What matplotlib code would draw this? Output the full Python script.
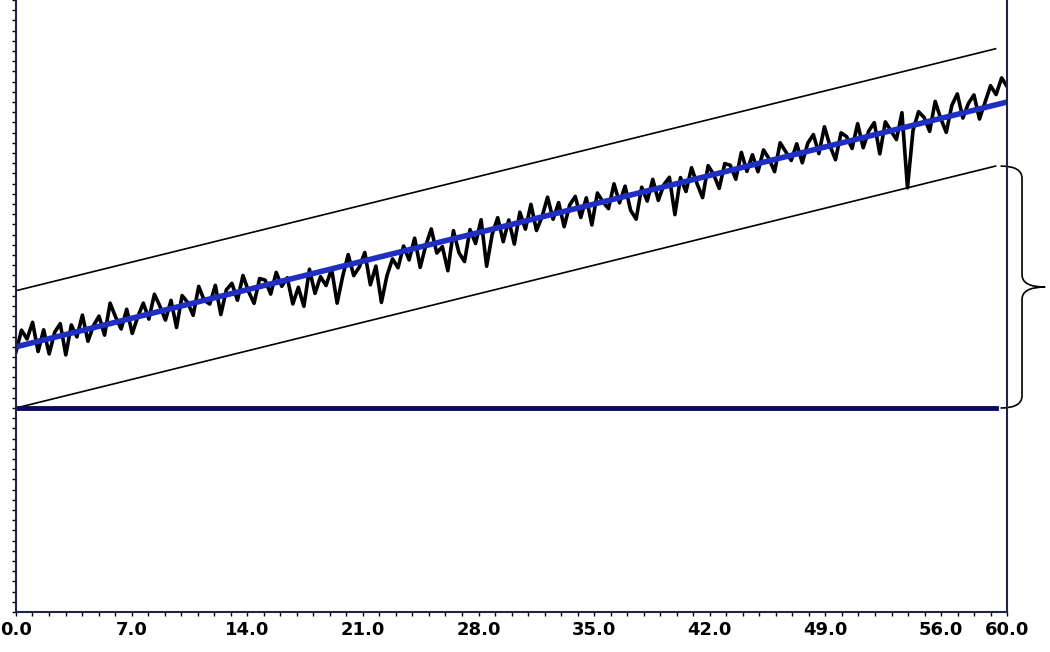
import numpy as np
import matplotlib.pyplot as plt
from matplotlib.path import Path
from matplotlib.patches import PathPatch

x_ticks = [0, 7, 14, 21, 28, 35, 42, 49, 56, 60]
x_labels = ["0.0", "7.0", "14.0", "21.0", "28.0", "35.0", "42.0", "49.0", "56.0", "60.0"]
trend_start = 2.6
trend_slope = 0.04
upper_start = 3.15
lower_start = 2.0
band_end = 59.3
base_level = 2.0

dev = [-0.05, 0.15, 0.05, 0.2, -0.1, 0.1, -0.15, 0.05, 0.12, -0.2, 0.08, -0.05,
       0.15, -0.12, 0.02, 0.1, -0.1, 0.2, 0.05, -0.08, 0.1, -0.15, 0.0, 0.12,
       -0.05, 0.18, 0.05, -0.1, 0.08, -0.2, 0.1, 0.02, -0.12, 0.15, 0.0, -0.05,
       0.12, -0.18, 0.05, 0.1, -0.08, 0.15, -0.02, -0.15, 0.08, 0.05, -0.1, 0.1,
       -0.05, 0.02, -0.25, -0.1, -0.3, 0.05, -0.2, -0.05, -0.15, 0.0, -0.35, -0.1,
       0.1, -0.12, -0.05, 0.08, -0.25, -0.08, -0.45, -0.2, -0.05, -0.15, 0.05, -0.1,
       0.1, -0.2, 0.0, 0.15, -0.1, -0.05, -0.3, 0.08, -0.15, -0.25, 0.05, -0.1,
       0.12, -0.35, -0.05, 0.1, -0.15, 0.05, -0.2, 0.1, -0.08, 0.15, -0.12, 0.0,
       0.18, -0.05, 0.1, -0.15, 0.05, 0.12, -0.1, 0.08, -0.2, 0.1, 0.0, -0.08,
       0.15, -0.05, 0.1, -0.15, -0.25, 0.05, -0.1, 0.1, -0.12, 0.02, 0.08, -0.3,
       0.05, -0.1, 0.12, -0.05, -0.2, 0.1, 0.0, -0.15, 0.08, 0.05, -0.1, 0.15,
       -0.05, 0.1, -0.08, 0.12, 0.02, -0.12, 0.15, 0.05, -0.05, 0.1, -0.1, 0.08,
       0.15, -0.05, 0.2, 0.0, -0.15, 0.1, 0.05, -0.08, 0.15, -0.1, 0.05, 0.12,
       -0.2, 0.1, 0.0, -0.1, 0.15, -0.6, -0.05, 0.12, 0.05, -0.1, 0.18, 0.0,
       -0.15, 0.1, 0.2, -0.05, 0.08, 0.15, -0.1, 0.05, 0.2, 0.1, 0.25, 0.15]

t = np.linspace(0, 60, len(dev))
trend = trend_start + trend_slope * t
meas = trend + np.array(dev)

fig = plt.figure(figsize=(10.5, 6.52), dpi=100)
ax = fig.add_axes([0.0152, 0.0613, 0.944, 0.9387])

xb = np.array([0, band_end])
ax.plot(xb, upper_start + trend_slope * xb, color="black", lw=1.2)
ax.plot(xb, lower_start + trend_slope * xb, color="black", lw=1.2)
ax.plot(xb, [base_level, base_level], color="#0a0a5e", lw=3.5)
ax.plot(t, meas, color="black", lw=2.6)
ax.plot(t, trend, color="#1f2fc4", lw=4)

# curly brace on the right side
bx, tip, mid = 59.6, 62.3, 60.9
y0, y1 = lower_start + trend_slope * band_end, base_level
ym = (y0 + y1) / 2
d = 0.12
verts = [(bx, y0), (mid, y0), (mid, y0 - d), (mid, ym + d), (mid, ym), (tip, ym),
         (mid, ym), (mid, ym - d), (mid, y1 + d), (mid, y1), (bx, y1)]
codes = [Path.MOVETO, Path.CURVE3, Path.CURVE3, Path.LINETO, Path.CURVE3, Path.CURVE3,
         Path.CURVE3, Path.CURVE3, Path.LINETO, Path.CURVE3, Path.CURVE3]
ax.add_patch(PathPatch(Path(verts, codes), fill=False, lw=1.2, color="black", clip_on=False))

ax.set_xlim(0, 60)
ax.set_ylim(0, 6.0)
ax.set_xticks(x_ticks)
ax.set_xticklabels(x_labels, fontfamily=["Liberation Sans Narrow", "DejaVu Sans"],
                   fontweight="bold", fontsize=13)
ax.set_xticks(np.arange(0, 61, 1), minor=True)
ax.set_yticks(np.arange(0, 6.01, 1))
ax.set_yticks(np.arange(0, 6.01, 0.1), minor=True)
ax.set_yticklabels([])
ax.tick_params(axis="both", which="both", length=3, width=1, direction="out")
ax.spines["top"].set_visible(False)
for s in ["left", "bottom", "right"]:
    ax.spines[s].set_color("#222244")
    ax.spines[s].set_linewidth(1.5)

fig.savefig("out.png", dpi=100)
